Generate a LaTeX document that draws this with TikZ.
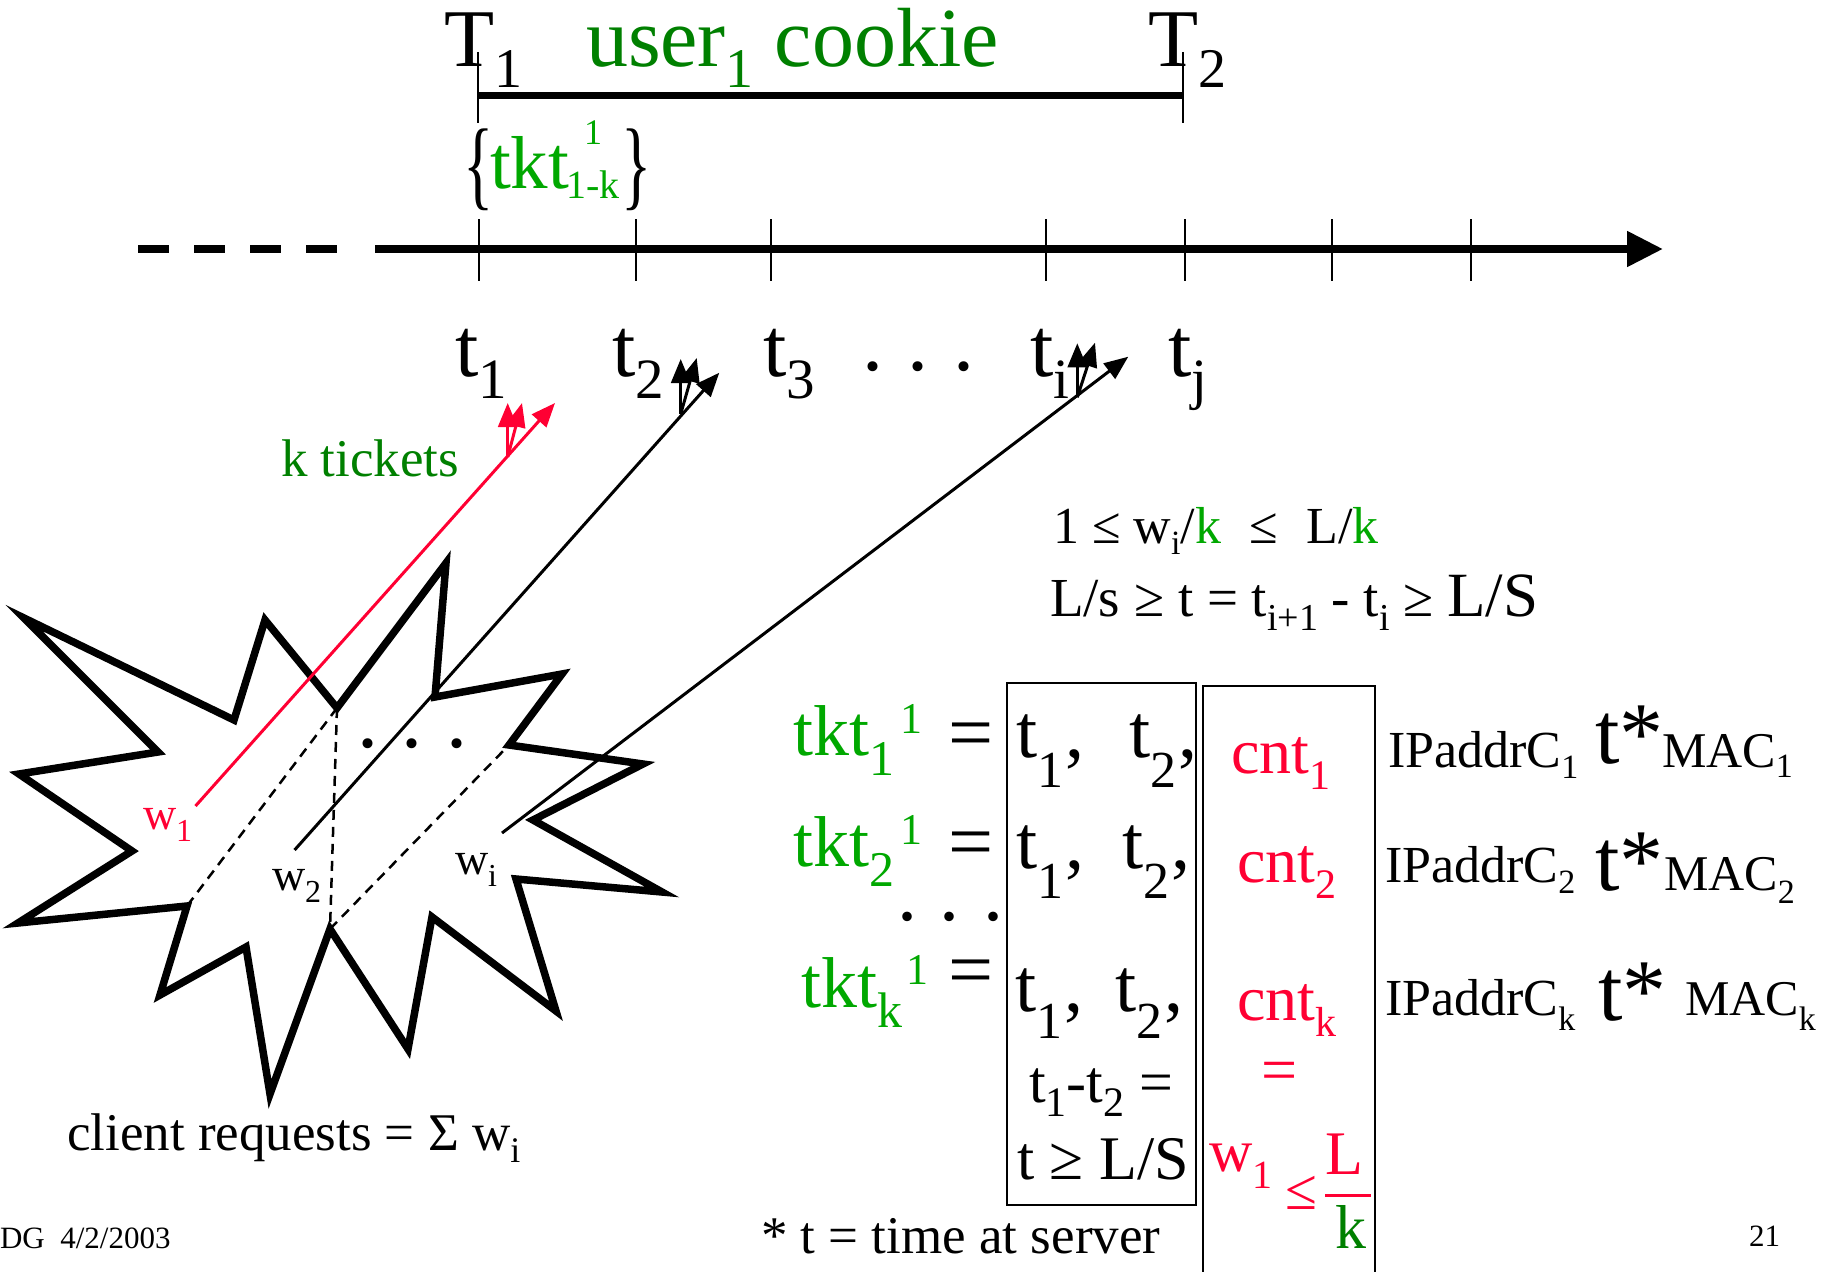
\documentclass[tikz,border=0pt]{standalone}
\usepackage{fontspec}
\setmainfont{Liberation Serif}
\usetikzlibrary{arrows.meta}
\definecolor{dgreen}{RGB}{0,128,0}
\definecolor{bgreen}{RGB}{0,168,0}
\definecolor{pred}{RGB}{255,0,51}
\newcommand\fs[1]{\fontsize{#1}{#1}\selectfont}
\newcommand\lo[3]{\raisebox{-#2pt}{\fs{#1}#3}}
\newcommand\hi[3]{\raisebox{#2pt}{\fs{#1}#3}}
\newcommand\mydots[1]{.\kern#1pt.\kern#1pt.}
\begin{document}
\begin{tikzpicture}[x=1pt,y=-1pt,
  txt/.style={inner sep=0pt,outer sep=0pt,anchor=base west},
  ctr/.style={inner sep=0pt,outer sep=0pt},
  tick/.style={line width=2.5pt},
  conn/.style={line width=3pt,-{Triangle[length=24pt,width=19pt]}},
  dashd/.style={line width=2.5pt,dash pattern=on 10pt off 7pt},
  boxl/.style={line width=2.5pt}]
\useasboundingbox (0,0) rectangle (1822,1271);
\fill[white] (0,0) rectangle (1822,1271);

% ---- cookie interval ----
\node[txt,font=\fs{82}] (T1) at (444,67) {T\lo{56}{21}{1}};
\node[txt,font=\fs{84},text=dgreen] (uc) at (586,67) {user\lo{56}{21}{1} cookie};
\node[txt,font=\fs{82}] (T2) at (1148,67) {T\lo{56}{21}{2}};
\coordinate (ba) at (478,96);
\coordinate (bb) at (1183,96);
\draw[line width=7pt] (ba) -- (bb);
\draw[tick] (478,52) -- (478,123);
\draw[tick] (1183,52) -- (1183,123);

\node[ctr] (lb) at (479,170) {\scalebox{1.05}[1.65]{\fs{60}\{}};
\node[ctr] (rb) at (637,170) {\scalebox{1.05}[1.65]{\fs{60}\}}};
\node[txt,font=\fs{75},text=bgreen] (tk) at (490,188) {tkt};
\node[txt,font=\fs{40},text=bgreen] (tks) at (566,198) {1-k};
\node[txt,font=\fs{36},text=bgreen] (tkp) at (584,144) {1};

% ---- time axis ----
\draw[line width=8pt,dash pattern=on 31pt off 25pt] (138,249) -- (337,249);
\coordinate (ax0) at (375,249);
\coordinate (ax1) at (1663,249);
\draw[line width=8pt,-{Triangle[length=36pt,width=34pt]}] (ax0) -- (ax1);
\foreach \x in {479,636,771,1046,1185,1332,1471}
  \draw[tick] (\x,219) -- (\x,281);

\node[txt,font=\fs{84}] (l1) at (455,376) {t\lo{57}{22}{1}};
\node[txt,font=\fs{84}] (l2) at (612,376) {t\lo{57}{22}{2}};
\node[txt,font=\fs{84}] (l3) at (763,376) {t\lo{57}{22}{3}};
\node[txt,font=\fs{84}] (ld) at (862,370) {\mydots{25}};
\node[txt,font=\fs{84}] (li) at (1030,376) {t\lo{57}{22}{i}};
\node[txt,font=\fs{84}] (lj) at (1168,376) {t\lo{57}{22}{j}};

% ---- client burst ----
\draw[line width=7.5pt,line join=miter]
  (24,618) -- (234,720) -- (265,620) -- (337,708) -- (446,563) -- (435,697)
  -- (562,674) -- (509,745) -- (643,764) -- (533,820) -- (662,892) -- (516,879)
  -- (556,1011) -- (432,917) -- (408,1049) -- (330,929) -- (270,1094) -- (246,947)
  -- (160,995) -- (187,906) -- (18,923) -- (132,851) -- (19,774) -- (158,752) -- cycle;
\coordinate (bD) at (337,708);
\coordinate (bT) at (187,906);
\coordinate (bP) at (330,929);
\coordinate (bH) at (509,745);
\draw[dashd] (bD) -- (bT);
\draw[dashd] (bD) -- (bP);
\draw[dashd] (bP) -- (bH);
\node[txt,font=\fs{84}] (bd) at (357,747) {\mydots{24}};

\node[txt,font=\fs{46},text=pred] (w1) at (143,829) {w\lo{32}{12}{1}};
\node[txt,font=\fs{46}] (w2) at (272,890) {w\lo{32}{12}{2}};
\node[txt,font=\fs{46}] (wi) at (455,874) {w\lo{32}{12}{i}};
\node[txt,font=\fs{53},text=dgreen] (kt) at (281,476) {k tickets};

% ---- request arrows ----
\coordinate (w1e) at (195.5,806);
\coordinate (r0) at (507.7,457);
\coordinate (r1) at (507.7,403);
\coordinate (r2) at (522,403);
\coordinate (r3) at (555,403);
\draw[conn,pred] (w1e) -- (r3);
\draw[conn,pred] (r0) -- (r1);
\draw[conn,pred] (r0) -- (r2);

\coordinate (w2e) at (294.6,850);
\coordinate (s0) at (680.7,414);
\coordinate (s1) at (680.7,359);
\coordinate (s2) at (696.7,358);
\coordinate (s3) at (719.3,372.7);
\draw[conn] (w2e) -- (s3);
\draw[conn] (s0) -- (s1);
\draw[conn] (s0) -- (s2);

\coordinate (wie) at (502,833);
\coordinate (q0) at (1077.3,397.3);
\coordinate (q1) at (1077.3,343.3);
\coordinate (q2) at (1095,342.7);
\coordinate (q3) at (1128.3,356.7);
\draw[conn] (wie) -- (q3);
\draw[conn] (q0) -- (q1);
\draw[conn] (q0) -- (q2);

% ---- constraints ----
\node[txt,font=\fs{52}] (c1) at (1053,543)
  {1 ≤ w\lo{34}{11}{i}/\textcolor{bgreen}{k}\hspace{0.55em}≤\hspace{0.55em}L/\textcolor{bgreen}{k}};
\node[txt,font=\fs{55}] (c2) at (1050,616)
  {L/s ≥ t = t\lo{38}{14}{i+1} - t\lo{38}{14}{i} ≥ {\fs{63}L/S}};

% ---- tickets ----
\node[txt,font=\fs{72},text=bgreen] (k1) at (793,755) {tkt\lo{50}{20}{1}\hspace{6pt}\hi{44}{22}{1}};
\node[txt,font=\fs{72},text=bgreen] (k2) at (793,866) {tkt\lo{50}{20}{2}\hspace{6pt}\hi{44}{22}{1}};
\node[txt,font=\fs{72},text=bgreen] (k3) at (801,1007) {tkt\lo{50}{20}{k}\hspace{4pt}\hi{44}{23}{1}};
\node[txt,font=\fs{80}] (e1) at (948,759) {=};
\node[txt,font=\fs{80}] (e2) at (948,868) {=};
\node[txt,font=\fs{80}] (e3) at (948,996) {=};
\node[txt,font=\fs{80}] (kd) at (897,920) {\mydots{23}};

\draw[boxl] (1007,683) rectangle (1196,1205);
\node[txt,font=\fs{76}] (a1) at (1016,757) {t\lo{52}{30}{1}\kern2pt,};
\node[txt,font=\fs{76}] (b1) at (1129,757) {t\lo{52}{30}{2}\kern2pt,};
\node[txt,font=\fs{76}] (a2) at (1016,868) {t\lo{52}{30}{1}\kern2pt,};
\node[txt,font=\fs{76}] (b2) at (1122,868) {t\lo{52}{30}{2}\kern2pt,};
\node[txt,font=\fs{76}] (a3) at (1015,1011) {t\lo{52}{27}{1}\kern2pt,};
\node[txt,font=\fs{76}] (b3) at (1115,1011) {t\lo{52}{27}{2}\kern2pt,};
\node[txt,font=\fs{60}] (d1) at (1029,1102) {t\lo{42}{14}{1}-t\lo{42}{14}{2} =};
\node[txt,font=\fs{62}] (d2) at (1017,1179) {t ≥ L/S};

\draw[boxl] (1203,1280) -- (1203,686) -- (1375,686) -- (1375,1280);
\node[txt,font=\fs{64},text=pred] (n1) at (1231,773) {cnt\lo{42}{16}{1}};
\node[txt,font=\fs{64},text=pred] (n2) at (1237,882) {cnt\lo{42}{16}{2}};
\node[txt,font=\fs{64},text=pred] (n3) at (1237,1020) {cnt\lo{42}{16}{k}};
\node[txt,font=\fs{64},text=pred] (n4) at (1261,1091) {=};
\node[txt,font=\fs{60},text=pred] (n5) at (1209,1171) {w\lo{40}{17}{1}};
\node[txt,font=\fs{58},text=pred] (n6) at (1285,1209) {≤};
\node[txt,font=\fs{62},text=pred] (n7) at (1325,1174) {L};
\coordinate (fa) at (1325,1195);
\coordinate (fb) at (1371,1195);
\draw[pred,line width=3pt] (fa) -- (fb);
\node[txt,font=\fs{62},text=dgreen] (n8) at (1335,1248) {k};

\node[txt,font=\fs{52}] (p1) at (1388,767) {IPaddrC\lo{34}{11}{1}};
\node[txt,font=\fs{88}] (z1) at (1595,763) {t*};
\node[txt,font=\fs{50}] (m1) at (1662,767) {MAC\lo{34}{10}{1}};
\node[txt,font=\fs{52}] (p2) at (1385,882) {IPaddrC\lo{34}{11}{2}};
\node[txt,font=\fs{88}] (z2) at (1595,890) {t*};
\node[txt,font=\fs{50}] (m2) at (1664,890) {MAC\lo{34}{13}{2}};
\node[txt,font=\fs{52}] (p3) at (1385,1015) {IPaddrC\lo{34}{15}{k}};
\node[txt,font=\fs{88}] (z3) at (1598,1020) {t*};
\node[txt,font=\fs{50}] (m3) at (1685,1015) {MAC\lo{34}{15}{k}};

% ---- footer ----
\node[txt,font=\fs{53}] (cr) at (67,1150) {client requests = Σ w\lo{36}{12}{i}};
\node[txt,font=\fs{31}] (dg) at (0,1248) {DG\hspace{0.5em}4/2/2003};
\node[txt,font=\fs{53}] (ts) at (761,1253) {* t = time at server};
\node[txt,font=\fs{31}] (pg) at (1749,1246) {21};
\end{tikzpicture}
\end{document}
